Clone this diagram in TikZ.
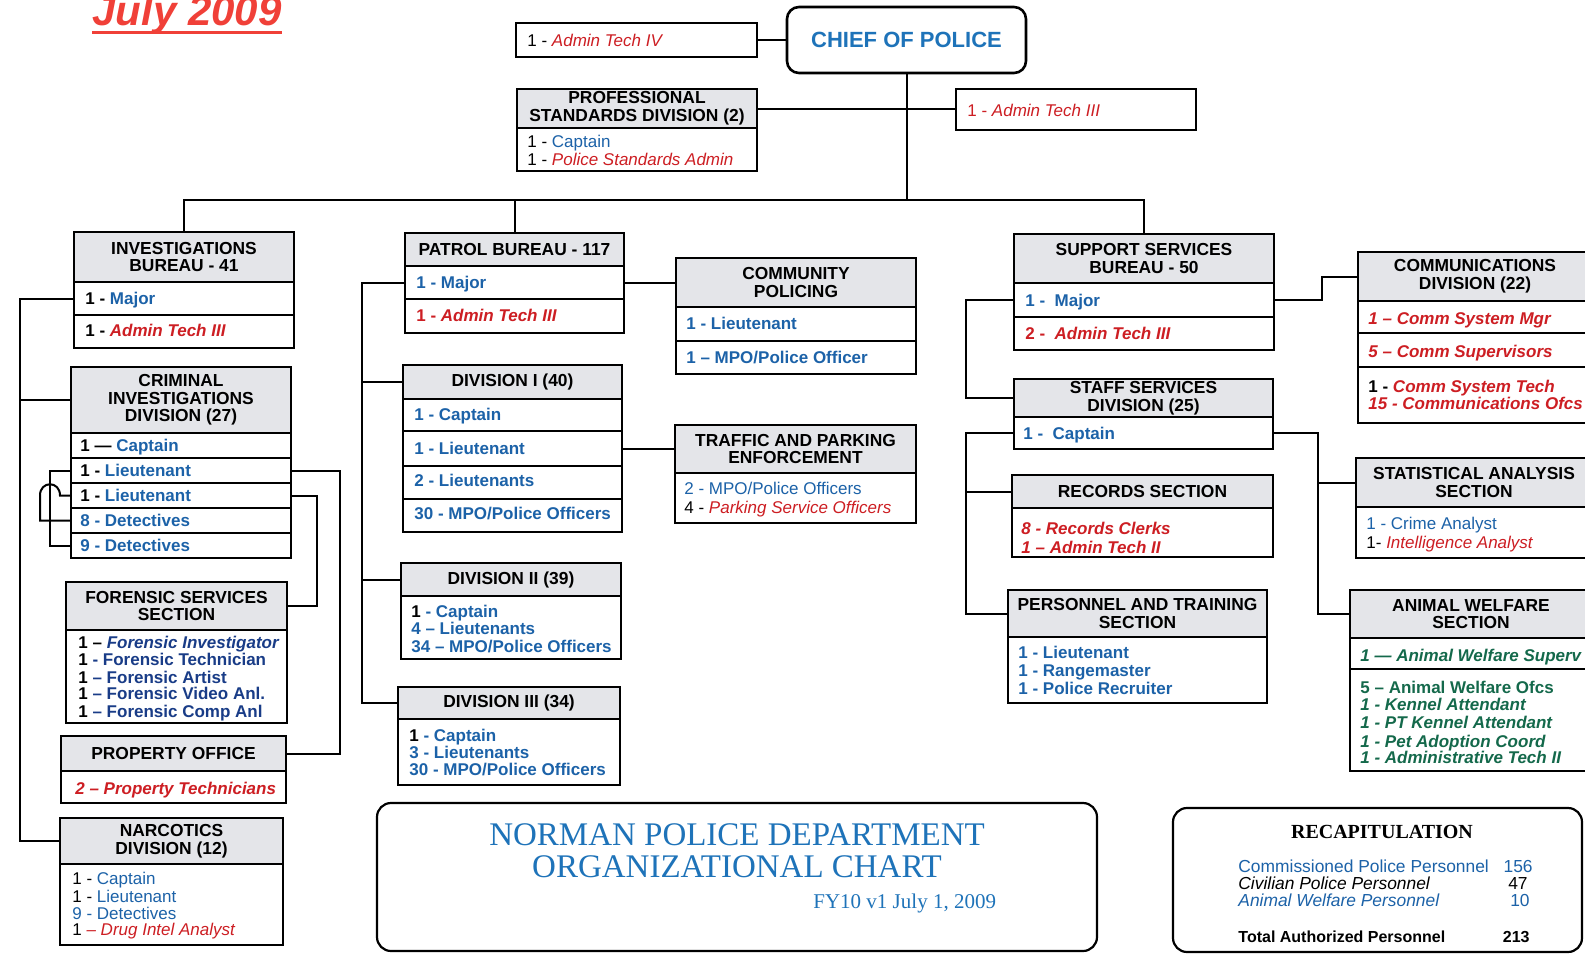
\documentclass[tikz,border=0pt]{standalone}
\usepackage{fontspec}
\setmainfont{Liberation Sans}
\newfontfamily\seriffont{Liberation Serif}
\usetikzlibrary{fit}
\definecolor{cblue}{RGB}{28,98,168}
\definecolor{cred}{RGB}{205,30,35}
\definecolor{cgreen}{RGB}{20,105,75}
\definecolor{cnavy}{RGB}{25,60,135}
\definecolor{hdrgray}{RGB}{228,229,233}
\definecolor{jred}{RGB}{240,64,56}
\definecolor{ttlblue}{RGB}{30,115,185}
\newcommand\blu[1]{\textcolor{cblue}{#1}}
\newcommand\rdi[1]{\textcolor{cred}{\itshape #1}}
\newcommand\grn[1]{\textcolor{cgreen}{\itshape #1}}
\newcommand\mkhdr[3]{\node[hdrbox, fit={#2 #3}] (#1) {};}
\newcommand\mkcell[3]{\node[cellbox, fit={#2 #3}] (#1) {};}
\tikzset{
 hdrbox/.style={draw, line width=1pt, fill=hdrgray, inner sep=0pt},
 cellbox/.style={draw, line width=1pt, fill=white, inner sep=0pt},
 roundbox/.style={draw, line width=1.1pt, fill=white, inner sep=0pt, rounded corners=7pt},
 conn/.style={line width=1pt},
 ht/.style={font=\fontsize{8.7}{8.8}\selectfont\bfseries, align=center, inner sep=0pt},
 bt/.style={font=\fontsize{8.5}{8.7}\selectfont\bfseries, anchor=base west, inner sep=0pt},
 btn/.style={font=\fontsize{8.5}{8.7}\selectfont, anchor=base west, inner sep=0pt},
}
\begin{document}
\begin{tikzpicture}[x=0.5pt, y=-0.5pt]
\useasboundingbox (0,0) rectangle (1585,954);
\clip (0,0) rectangle (1585,954);
\fill[white] (0,0) rectangle (1585,954);

% ---------- boxes ----------
\mkcell{at4}{(516,23)}{(757,57)}
\node[roundbox, line width=1.3pt, rounded corners=6pt, fit={(787,7) (1026,73)}] (chief) {};
\mkhdr{psdh}{(517,89)}{(757,128)}
\mkcell{psdb}{(517,128)}{(757,171)}
\mkcell{at3}{(956,89)}{(1196,130)}

\mkhdr{ibh}{(74,232)}{(294,282)}
\mkcell{ib1}{(74,282)}{(294,315)}
\mkcell{ib2}{(74,315)}{(294,348)}
\mkhdr{cidh}{(71,367)}{(291,433)}
\mkcell{cid1}{(71,433)}{(291,458)}
\mkcell{cid2}{(71,458)}{(291,483)}
\mkcell{cid3}{(71,483)}{(291,508)}
\mkcell{cid4}{(71,508)}{(291,533)}
\mkcell{cid5}{(71,533)}{(291,558)}
\mkhdr{fsh}{(66,582)}{(287,630)}
\mkcell{fsb}{(66,630)}{(287,723)}
\mkhdr{poh}{(61,736)}{(286,771)}
\mkcell{pob}{(61,771)}{(286,803)}
\mkhdr{nah}{(60,818)}{(283,864)}
\mkcell{nab}{(60,864)}{(283,945)}

\mkhdr{pbh}{(405,233)}{(624,266)}
\mkcell{pb1}{(405,266)}{(624,299)}
\mkcell{pb2}{(405,299)}{(624,333)}
\mkhdr{cph}{(676,258)}{(916,307)}
\mkcell{cp1}{(676,307)}{(916,341)}
\mkcell{cp2}{(676,341)}{(916,374)}
\mkhdr{d1h}{(403,365)}{(622,399)}
\mkcell{d1a}{(403,399)}{(622,431)}
\mkcell{d1b}{(403,431)}{(622,466)}
\mkcell{d1c}{(403,466)}{(622,499)}
\mkcell{d1d}{(403,499)}{(622,532)}
\mkhdr{tph}{(675,425)}{(916,473)}
\mkcell{tpb}{(675,473)}{(916,523)}
\mkhdr{d2h}{(401,563)}{(621,596)}
\mkcell{d2b}{(401,596)}{(621,659)}
\mkhdr{d3h}{(398,687)}{(620,719)}
\mkcell{d3b}{(398,719)}{(620,785)}

\mkhdr{ssbh}{(1014,234)}{(1274,283)}
\mkcell{ssb1}{(1014,283)}{(1274,317)}
\mkcell{ssb2}{(1014,317)}{(1274,350)}
\mkhdr{stfh}{(1014,379)}{(1273,417)}
\mkcell{stf1}{(1014,417)}{(1273,449)}
\mkhdr{rsh}{(1012,475)}{(1273,508)}
\mkcell{rsb}{(1012,508)}{(1273,557)}
\mkhdr{pth}{(1008,590)}{(1267,637)}
\mkcell{ptb}{(1008,637)}{(1267,703)}
\mkhdr{cmh}{(1358,252)}{(1592,301)}
\mkcell{cm1}{(1358,301)}{(1592,333)}
\mkcell{cm2}{(1358,333)}{(1592,367)}
\mkcell{cm3}{(1358,367)}{(1592,423)}
\mkhdr{sah}{(1356,458)}{(1592,507)}
\mkcell{sab}{(1356,507)}{(1592,558)}
\mkhdr{awh}{(1350,590)}{(1592,638)}
\mkcell{aw1}{(1350,638)}{(1592,669)}
\mkcell{aw2}{(1350,669)}{(1592,771)}

\node[roundbox, fit={(377,803) (1097,951)}] (ttl) {};
\node[roundbox, fit={(1173,808) (1582,952)}] (recap) {};

% ---------- connectors ----------
\coordinate (bus) at (907,200);
\draw[conn] (chief.south) -- (chief.south |- bus);
\draw[conn] (ibh.north) |- (bus) -| (ssbh.north);
\draw[conn] (pbh.north) -- (pbh.north |- bus);
\draw[conn] (at4.east) -- (at4.east -| chief.west);
\draw[conn] (psdh.east) -- (psdh.east -| at3.west);

\coordinate (lx) at (20,0);
\draw[conn] (ib1.west) -- (ib1.west -| lx) |- (nah.west);
\draw[conn] (cidh.west) -- (cidh.west -| lx);
\coordinate (cx1) at (50,0);
\draw[conn] (cid2.west) -- (cid2.west -| cx1) |- (cid5.west);
\draw[conn] (cid3.west) -- ++(-10,0) .. controls +(0,-15) and +(0,-15) .. ++(-20,0) |- (cid4.west);
\coordinate (cx2) at (317,0);
\coordinate (cx3) at (340,0);
\draw[conn] (cid3.east) -- (cid3.east -| cx2) |- (fsh.east);
\draw[conn] (cid2.east) -- (cid2.east -| cx3) |- (poh.east);

\coordinate (px) at (362,0);
\draw[conn] (pb1.west) -- (pb1.west -| px) |- (d3h.west);
\draw[conn] (d1h.west) -- (d1h.west -| px);
\draw[conn] (d2h.west) -- (d2h.west -| px);
\draw[conn] (pb1.east) -- (pb1.east -| cph.west);
\draw[conn] (d1b.east) -- (d1b.east -| tph.west);

\coordinate (sx) at (966,0);
\draw[conn] (ssb1.west) -- (ssb1.west -| sx) |- (stfh.west);
\draw[conn] (stf1.west) -- (stf1.west -| sx) |- (pth.west);
\draw[conn] (rsh.west) -- (rsh.west -| sx);
\coordinate (sx2) at (1322,0);
\coordinate (sx3) at (1318,0);
\draw[conn] (ssb1.east) -- (ssb1.east -| sx2) |- (cmh.west);
\draw[conn] (stf1.east) -- (stf1.east -| sx3) |- (awh.west);
\draw[conn] (sah.west) -- (sah.west -| sx3);

% ---------- texts ----------
\node[anchor=base west, font=\fontsize{21}{21}\selectfont\bfseries\itshape, text=jred, inner sep=0pt] (july) at (92,25) {July 2009};
\draw[jred, line width=1.5pt] ([yshift=-3.8pt]july.base west) -- ([yshift=-3.8pt]july.base east);

\node[btn] (at4-t) at (527,46) {1 - \rdi{Admin Tech IV}};
\node[font=\fontsize{11}{11}\selectfont\bfseries, text=ttlblue, inner sep=0pt] (chief-t) at (chief) {CHIEF OF POLICE};
\node[ht] (psdh-t) at (psdh) {PROFESSIONAL\\STANDARDS DIVISION (2)};
\node[btn] (psd1-t) at (527,147) {1 - \blu{Captain}};
\node[btn] (psd2-t) at (527,165) {1 - \rdi{Police Standards Admin}};
\node[btn] (at3-t) at (967,116) {\textcolor{cred}{1 - \itshape Admin Tech III}};

\node[ht] (ibh-t) at (ibh) {INVESTIGATIONS\\BUREAU - 41};
\node[bt] (ib1-t) at (85,304) {1 - \blu{Major}};
\node[bt] (ib2-t) at (85,336) {1 - \rdi{Admin Tech III}};
\node[ht] (cidh-t) at (cidh) {CRIMINAL\\INVESTIGATIONS\\DIVISION (27)};
\node[bt] (cid1-t) at (80,451.5) {1 --- \blu{Captain}};
\node[bt] (cid2-t) at (80,476.5) {1 - \blu{Lieutenant}};
\node[bt] (cid3-t) at (80,501.5) {1 - \blu{Lieutenant}};
\node[bt] (cid4-t) at (80,526.5) {\blu{8 - Detectives}};
\node[bt] (cid5-t) at (80,551.5) {\blu{9 - Detectives}};
\node[ht] (fsh-t) at (fsh) {FORENSIC SERVICES\\SECTION};
\node[bt] (fs1-t) at (78,648) {1 -- \textcolor{cnavy}{\itshape Forensic Investigator}};
\node[bt] (fs2-t) at (78,665) {1 \textcolor{cnavy}{- Forensic Technician}};
\node[bt] (fs3-t) at (78,683) {1 \textcolor{cnavy}{-- Forensic Artist}};
\node[bt] (fs4-t) at (78,699) {1 \textcolor{cnavy}{-- Forensic Video Anl.}};
\node[bt] (fs5-t) at (78,717) {1 \textcolor{cnavy}{-- Forensic Comp Anl}};
\node[ht] (poh-t) at (poh) {PROPERTY OFFICE};
\node[bt] (po1-t) at (75,794) {\rdi{2 -- Property Technicians}};
\node[ht] (nah-t) at (nah) {NARCOTICS\\DIVISION (12)};
\node[btn] (na1-t) at (72,884) {1 - \blu{Captain}};
\node[btn] (na2-t) at (72,902) {1 - \blu{Lieutenant}};
\node[btn] (na3-t) at (72,919) {\blu{9 - Detectives}};
\node[btn] (na4-t) at (72,935) {1 \rdi{-- Drug Intel Analyst}};

\node[ht] (pbh-t) at (pbh) {PATROL BUREAU - 117};
\node[bt] (pb1-t) at (416,288) {\blu{1 - Major}};
\node[bt] (pb2-t) at (416,321) {\textcolor{cred}{1 - \itshape Admin Tech III}};
\node[ht] (cph-t) at (cph) {COMMUNITY\\POLICING};
\node[bt] (cp1-t) at (686,329) {\blu{1 - Lieutenant}};
\node[bt] (cp2-t) at (686,363) {\blu{1 -- MPO/Police Officer}};
\node[ht] (d1h-t) at (d1h) {DIVISION I (40)};
\node[bt] (d1a-t) at (414,420) {\blu{1 - Captain}};
\node[bt] (d1b-t) at (414,454) {\blu{1 - Lieutenant}};
\node[bt] (d1c-t) at (414,486) {\blu{2 - Lieutenants}};
\node[bt] (d1d-t) at (414,519) {\blu{30 - MPO/Police Officers}};
\node[ht] (tph-t) at (tph) {TRAFFIC AND PARKING\\ENFORCEMENT};
\node[btn] (tp1-t) at (684,494) {\blu{2 - MPO/Police Officers}};
\node[btn] (tp2-t) at (684,513) {4 - \rdi{Parking Service Officers}};
\node[ht] (d2h-t) at (d2h) {DIVISION II (39)};
\node[bt] (d21-t) at (411,617) {1 \blu{- Captain}};
\node[bt] (d22-t) at (411,634) {\blu{4 -- Lieutenants}};
\node[bt] (d23-t) at (411,652) {\blu{34 -- MPO/Police Officers}};
\node[ht] (d3h-t) at (d3h) {DIVISION III (34)};
\node[bt] (d31-t) at (409,741) {1 \blu{- Captain}};
\node[bt] (d32-t) at (409,758) {\blu{3 - Lieutenants}};
\node[bt] (d33-t) at (409,775) {\blu{30 - MPO/Police Officers}};

\node[ht] (ssbh-t) at (ssbh) {SUPPORT SERVICES\\BUREAU - 50};
\node[bt] (ssb1-t) at (1025,306) {\blu{1 -\ \ Major}};
\node[bt] (ssb2-t) at (1025,339) {\textcolor{cred}{2 -\ \ \itshape Admin Tech III}};
\node[ht] (stfh-t) at (stfh) {STAFF SERVICES\\DIVISION (25)};
\node[bt] (stf1-t) at (1023,439) {\blu{1 -\ \ Captain}};
\node[ht] (rsh-t) at (rsh) {RECORDS SECTION};
\node[bt] (rs1-t) at (1021,534) {\rdi{8 - Records Clerks}};
\node[bt] (rs2-t) at (1021,553) {\rdi{1 -- Admin Tech II}};
\node[ht] (pth-t) at (pth) {PERSONNEL AND TRAINING\\SECTION};
\node[bt] (pt1-t) at (1018,658) {\blu{1 - Lieutenant}};
\node[bt] (pt2-t) at (1018,676) {\blu{1 - Rangemaster}};
\node[bt] (pt3-t) at (1018,694) {\blu{1 - Police Recruiter}};
\node[ht] (cmh-t) at (1475,276.5) {COMMUNICATIONS\\DIVISION (22)};
\node[bt] (cm1-t) at (1368,324) {\rdi{1 -- Comm System Mgr}};
\node[bt] (cm2-t) at (1368,357) {\rdi{5 -- Comm Supervisors}};
\node[bt] (cm3-t) at (1368,392) {1 - \rdi{Comm System Tech}};
\node[bt] (cm4-t) at (1368,409) {\rdi{15 - Communications Ofcs}};
\node[ht] (sah-t) at (1474,482.5) {STATISTICAL ANALYSIS\\SECTION};
\node[btn] (sa1-t) at (1366,529) {\blu{1 - Crime Analyst}};
\node[btn] (sa2-t) at (1366,548) {1- \rdi{Intelligence Analyst}};
\node[ht] (awh-t) at (1471,614) {ANIMAL WELFARE\\SECTION};
\node[bt] (aw1-t) at (1360,661) {\grn{1 --- Animal Welfare Superv}};
\node[bt] (aw2-t) at (1360,693) {\textcolor{cgreen}{5 -- Animal Welfare Ofcs}};
\node[bt] (aw3-t) at (1360,710) {\grn{1 - Kennel Attendant}};
\node[bt] (aw4-t) at (1360,728) {\grn{1 - PT Kennel Attendant}};
\node[bt] (aw5-t) at (1360,747) {\grn{1 - Pet Adoption Coord}};
\node[bt] (aw6-t) at (1360,763) {\grn{1 - Administrative Tech II}};

% ---------- title & recap ----------
\node[anchor=base, font=\seriffont\fontsize{16.5}{17}\selectfont, text=ttlblue, inner sep=0pt] (t1) at (737,845) {NORMAN POLICE DEPARTMENT};
\node[anchor=base, font=\seriffont\fontsize{16.5}{17}\selectfont, text=ttlblue, inner sep=0pt] (t2) at (737,877) {ORGANIZATIONAL CHART};
\node[anchor=base west, font=\seriffont\fontsize{10.5}{11}\selectfont, text=ttlblue, inner sep=0pt] (t3) at (813,908) {FY10 v1 July 1, 2009};

\node[anchor=base, font=\seriffont\fontsize{10}{10}\selectfont\bfseries, inner sep=0pt] (r0) at (1382,838) {RECAPITULATION};
\node[btn, font=\fontsize{8.7}{9}\selectfont, text=cblue] (r1) at (1238,872) {Commissioned Police Personnel};
\node[btn, anchor=base east, font=\fontsize{8.7}{9}\selectfont, text=cblue] (r1n) at (1533,872) {156};
\node[btn, font=\fontsize{8.7}{9}\selectfont\itshape] (r2) at (1238,889) {Civilian Police Personnel};
\node[btn, anchor=base east, font=\fontsize{8.7}{9}\selectfont] (r2n) at (1528,889) {47};
\node[btn, font=\fontsize{8.7}{9}\selectfont\itshape, text=cblue] (r3) at (1238,906) {Animal Welfare Personnel};
\node[btn, anchor=base east, font=\fontsize{8.7}{9}\selectfont, text=cblue] (r3n) at (1530,906) {10};
\node[bt, font=\fontsize{8}{9}\selectfont\bfseries] (r4) at (1238,942) {Total Authorized Personnel};
\node[bt, anchor=base east, font=\fontsize{8}{9}\selectfont\bfseries] (r4n) at (1530,942) {213};
\end{tikzpicture}
\end{document}
